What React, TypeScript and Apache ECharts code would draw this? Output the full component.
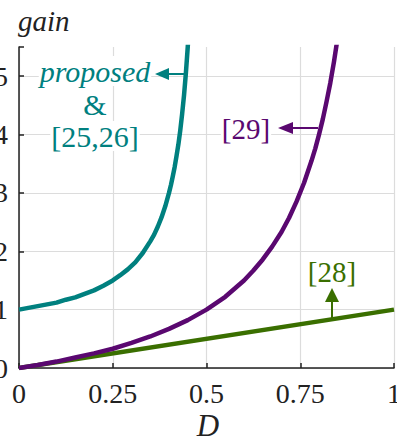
import React, { useEffect, useRef } from "react";
import * as echarts from "echarts";

// Values
const dProposed = [0, 0.025, 0.05, 0.075, 0.1, 0.125, 0.15, 0.175, 0.2, 0.225, 0.25, 0.27, 0.29, 0.31, 0.33, 0.35, 0.36, 0.37, 0.38, 0.39, 0.4, 0.405, 0.41, 0.415, 0.42, 0.425, 0.43, 0.435, 0.44, 0.445, 0.45, 0.455];
const gainProposed = [1, 1.03, 1.06, 1.09, 1.12, 1.17, 1.21, 1.27, 1.33, 1.41, 1.5, 1.59, 1.69, 1.81, 1.97, 2.17, 2.28, 2.42, 2.58, 2.77, 3.0, 3.13, 3.28, 3.44, 3.63, 3.83, 4.07, 4.35, 4.67, 5.05, 5.5, 6.06];

const dRef29 = [0, 0.05, 0.1, 0.15, 0.2, 0.25, 0.3, 0.35, 0.4, 0.45, 0.5, 0.55, 0.6, 0.625, 0.65, 0.675, 0.7, 0.72, 0.74, 0.76, 0.78, 0.79, 0.8, 0.81, 0.82, 0.83, 0.84, 0.85, 0.86];
const gainRef29 = [0, 0.05, 0.11, 0.18, 0.25, 0.33, 0.43, 0.54, 0.67, 0.82, 1.0, 1.22, 1.5, 1.67, 1.86, 2.08, 2.33, 2.57, 2.85, 3.17, 3.55, 3.76, 4.0, 4.26, 4.56, 4.88, 5.25, 5.67, 6.14];

const dRef28 = [0, 1];
const gainRef28 = [0, 1];

const xTicks = [0, 0.25, 0.5, 0.75, 1];
const yTicks = [0, 1, 2, 3, 4, 5];

const TEAL = "#00807f";
const PURPLE = "#5a0870";
const GREEN = "#3a6f00";
const SERIF = "Liberation Serif";

const pairs = (xs: number[], ys: number[]) => xs.map((x, i) => [x, ys[i]]);

const txt = (text: string, x: number, y: number, size: number, fill: string, italic = false, bg = false) => ({
  type: "text",
  x,
  y,
  z: 10,
  style: {
    text,
    fontFamily: SERIF,
    fontSize: size,
    fontStyle: italic ? "italic" : "normal",
    fill,
    align: "center",
    verticalAlign: "middle",
    backgroundColor: bg ? "#ffffff" : undefined,
    padding: bg ? [0, 1, 0, 1] : undefined,
  },
});

export default function App() {
  const ref = useRef<HTMLDivElement>(null);
  useEffect(() => {
    if (!ref.current) return;
    const chart = echarts.init(ref.current, undefined, { renderer: "svg" });
    const gridColor = "#dcdcdc";
    chart.setOption({
      animation: false,
      backgroundColor: "#ffffff",
      textStyle: { fontFamily: SERIF },
      grid: { left: 19, right: 3, top: 47, bottom: 76, containLabel: false, outerBoundsMode: "none" },
      xAxis: {
        type: "value",
        min: 0,
        max: 1,
        interval: 0.25,
        axisLine: { show: true, lineStyle: { color: "#222", width: 1.5 } },
        axisTick: { show: true, inside: true, length: 5, lineStyle: { color: "#222", width: 1.5 } },
        axisLabel: {
          color: "#222",
          fontFamily: SERIF,
          fontSize: 28,
          margin: 11,
          formatter: (v: number) => (xTicks.includes(v) ? String(v) : ""),
        },
        splitLine: { show: true, lineStyle: { color: gridColor, width: 1.2 } },
      },
      yAxis: {
        type: "value",
        min: 0,
        max: 5.5,
        interval: 1,
        axisLine: { show: true, lineStyle: { color: "#222", width: 1.5 } },
        axisTick: { show: true, inside: true, length: 5, lineStyle: { color: "#222", width: 1.5 } },
        axisLabel: {
          color: "#222",
          fontFamily: SERIF,
          fontSize: 28,
          margin: 11,
          formatter: (v: number) => (yTicks.includes(v) ? String(v) : ""),
        },
        splitLine: {
          show: true,
          lineStyle: {
            color: [gridColor, gridColor, gridColor, gridColor, gridColor, gridColor, "rgba(0,0,0,0)"],
            width: 1.2,
          },
        },
      },
      series: [
        {
          type: "line",
          data: pairs(dRef28, gainRef28),
          showSymbol: false,
          clip: true,
          lineStyle: { color: GREEN, width: 4.5 },
          z: 3,
        },
        {
          type: "line",
          data: pairs(dRef29, gainRef29),
          showSymbol: false,
          clip: true,
          lineStyle: { color: PURPLE, width: 4.5, join: "round" },
          z: 4,
        },
        {
          type: "line",
          data: pairs(dProposed, gainProposed),
          showSymbol: false,
          clip: true,
          lineStyle: { color: TEAL, width: 4.5, join: "round" },
          z: 5,
        },
      ],
      graphic: [
        {
          type: "text",
          left: 18,
          top: 6,
          style: { text: "gain", fontFamily: SERIF, fontSize: 29, fontStyle: "italic", fill: "#222" },
        },
        txt("D", 208, 425, 31, "#222", true),
        // proposed & [25,26]
        txt("proposed", 95, 71, 30, TEAL, true, true),
        txt("&", 95, 104, 30, TEAL),
        txt("[25,26]", 95, 136, 30, TEAL, false, true),
        { type: "polygon", z: 10, shape: { points: [[155, 74], [169, 68], [169, 80]] }, style: { fill: TEAL } },
        { type: "line", z: 10, shape: { x1: 167, y1: 74, x2: 186, y2: 74 }, style: { stroke: TEAL, lineWidth: 2 } },
        // [29]
        txt("[29]", 246, 129, 29, PURPLE, false, true),
        { type: "polygon", z: 10, shape: { points: [[278, 128], [293, 122], [293, 134]] }, style: { fill: PURPLE } },
        { type: "line", z: 10, shape: { x1: 291, y1: 128, x2: 318, y2: 128 }, style: { stroke: PURPLE, lineWidth: 2 } },
        // [28]
        txt("[28]", 332, 272, 29, GREEN),
        { type: "polygon", z: 10, shape: { points: [[332, 288], [325, 302], [339, 302]] }, style: { fill: GREEN } },
        { type: "line", z: 10, shape: { x1: 332, y1: 300, x2: 332, y2: 318 }, style: { stroke: GREEN, lineWidth: 2 } },
      ],
    });
    return () => chart.dispose();
  }, []);
  return (
    <div
      ref={ref}
      style={{ position: "fixed", left: 0, top: 0, width: 397, height: 444, background: "#fff" }}
    />
  );
}
